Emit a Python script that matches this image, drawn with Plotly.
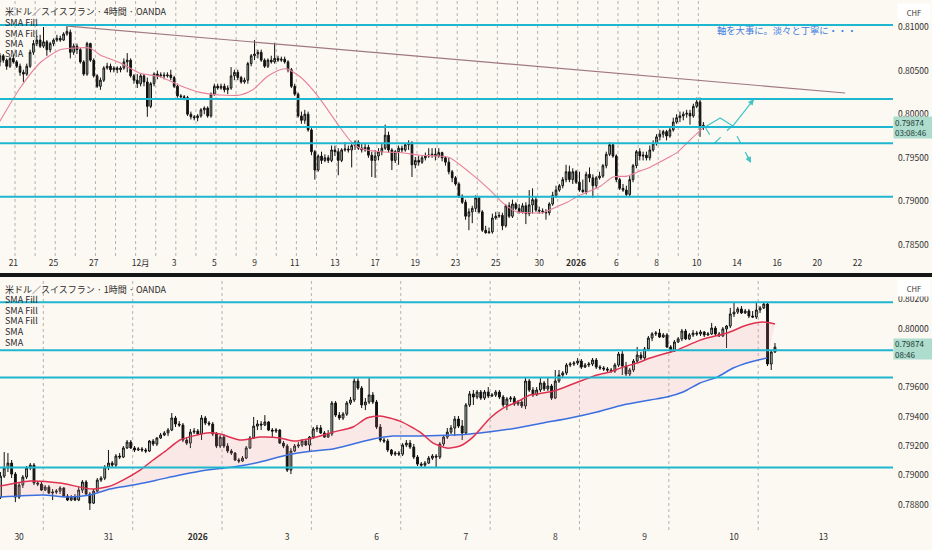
import plotly.graph_objects as go

# ======================= 4H panel (USD/CHF) =======================
top_open = [
 0.8070,0.8060,0.8067,0.8062,0.8055,0.8064,0.8060,0.8055,0.8048,0.8046,0.8055,0.8071,
 0.8081,0.8085,0.8078,0.8083,0.8074,0.8081,0.8085,0.8087,0.8085,0.8092,0.8094,0.8071,
 0.8078,0.8074,0.8060,0.8046,0.8081,0.8062,0.8044,0.8032,0.8039,0.8053,0.8055,0.8051,
 0.8053,0.8051,0.8053,0.8060,0.8062,0.8044,0.8039,0.8035,0.8044,0.8037,0.8009,0.8035,
 0.8046,0.8044,0.8045,0.8044,0.8045,0.8042,0.8032,0.8021,0.8020,0.8019,0.8000,0.7997,
 0.7996,0.7998,0.8005,0.8007,0.7998,0.8023,0.8032,0.8030,0.8032,0.8028,0.8030,0.8044,
 0.8048,0.8042,0.8037,0.8039,0.8058,0.8067,0.8069,0.8071,0.8062,0.8055,0.8062,0.8060,
 0.8064,0.8062,0.8063,0.8060,0.8051,0.8032,0.8023,0.7998,0.7993,0.8000,0.7982,0.7957,
 0.7936,0.7952,0.7947,0.7950,0.7947,0.7959,0.7957,0.7947,0.7959,0.7960,0.7959,0.7964,
 0.7968,0.7961,0.7959,0.7962,0.7953,0.7947,0.7952,0.7957,0.7961,0.7976,0.7959,0.7947,
 0.7957,0.7961,0.7959,0.7965,0.7967,0.7942,0.7947,0.7945,0.7950,0.7952,0.7953,0.7954,
 0.7952,0.7956,0.7950,0.7945,0.7934,0.7927,0.7920,0.7906,0.7899,0.7883,0.7888,0.7892,
 0.7904,0.7888,0.7867,0.7864,0.7865,0.7881,0.7883,0.7884,0.7872,0.7895,0.7883,0.7897,
 0.7892,0.7888,0.7895,0.7886,0.7896,0.7902,0.7890,0.7889,0.7888,0.7887,0.7897,0.7907,
 0.7913,0.7918,0.7925,0.7934,0.7925,0.7934,0.7922,0.7913,0.7911,0.7931,0.7927,0.7918,
 0.7927,0.7929,0.7941,0.7954,0.7965,0.7952,0.7925,0.7915,0.7913,0.7908,0.7925,0.7941,
 0.7957,0.7952,0.7953,0.7950,0.7959,0.7966,0.7974,0.7977,0.7980,0.7975,0.7982,0.7991,
 0.7996,0.7998,0.8000,0.8001,0.7998,0.8009,0.8014,0.7985]
top_high = [
 0.8074,0.8070,0.8069,0.8064,0.8066,0.8068,0.8062,0.8058,0.8051,0.8058,0.8074,0.8085,
 0.8090,0.8091,0.8100,0.8085,0.8083,0.8087,0.8091,0.8090,0.8094,0.8101,0.8097,0.8081,
 0.8081,0.8076,0.8062,0.8083,0.8082,0.8064,0.8046,0.8042,0.8055,0.8059,0.8058,0.8055,
 0.8055,0.8055,0.8064,0.8070,0.8064,0.8046,0.8046,0.8046,0.8046,0.8042,0.8037,0.8048,
 0.8050,0.8048,0.8048,0.8048,0.8051,0.8044,0.8035,0.8023,0.8022,0.8021,0.8003,0.7999,
 0.8000,0.8007,0.8009,0.8009,0.8025,0.8035,0.8035,0.8035,0.8035,0.8033,0.8054,0.8051,
 0.8051,0.8044,0.8042,0.8060,0.8069,0.8085,0.8074,0.8074,0.8064,0.8064,0.8067,0.8082,
 0.8067,0.8066,0.8066,0.8062,0.8053,0.8035,0.8025,0.8003,0.8005,0.8003,0.7984,0.7959,
 0.7954,0.7957,0.7954,0.7953,0.7964,0.7964,0.7961,0.7961,0.7968,0.7964,0.7966,0.7970,
 0.7970,0.7966,0.7967,0.7965,0.7957,0.7959,0.7961,0.7966,0.7988,0.7980,0.7961,0.7959,
 0.7964,0.7964,0.7967,0.7970,0.7969,0.7951,0.7952,0.7953,0.7956,0.7961,0.7961,0.7961,
 0.7961,0.7957,0.7952,0.7950,0.7936,0.7929,0.7922,0.7908,0.7902,0.7892,0.7895,0.7907,
 0.7906,0.7890,0.7872,0.7870,0.7886,0.7888,0.7888,0.7887,0.7897,0.7899,0.7902,0.7899,
 0.7897,0.7898,0.7899,0.7913,0.7915,0.7906,0.7894,0.7892,0.7891,0.7899,0.7911,0.7918,
 0.7920,0.7928,0.7942,0.7941,0.7938,0.7936,0.7934,0.7925,0.7934,0.7939,0.7931,0.7929,
 0.7934,0.7943,0.7957,0.7968,0.7967,0.7954,0.7927,0.7920,0.7918,0.7929,0.7943,0.7959,
 0.7961,0.7957,0.7957,0.7964,0.7970,0.7977,0.7982,0.7982,0.7982,0.7985,0.7996,0.8000,
 0.8003,0.8003,0.8005,0.8005,0.8012,0.8019,0.8019,0.7991]
top_low = [
 0.8058,0.8055,0.8059,0.8051,0.8053,0.8058,0.8053,0.8044,0.8037,0.8044,0.8053,0.8068,
 0.8078,0.8076,0.8076,0.8067,0.8071,0.8078,0.8083,0.8083,0.8084,0.8090,0.8064,0.8068,
 0.8069,0.8058,0.8044,0.8044,0.8060,0.8042,0.8030,0.8028,0.8037,0.8051,0.8048,0.8048,
 0.8047,0.8048,0.8051,0.8048,0.8042,0.8035,0.8030,0.8032,0.8032,0.7997,0.8007,0.8032,
 0.8040,0.8042,0.8040,0.8042,0.8039,0.8030,0.8019,0.8017,0.8016,0.7998,0.7994,0.7993,
 0.7992,0.7996,0.8000,0.7996,0.7996,0.8021,0.8028,0.8028,0.8025,0.8023,0.8028,0.8039,
 0.8039,0.8035,0.8035,0.8035,0.8055,0.8062,0.8064,0.8060,0.8053,0.8053,0.8058,0.8058,
 0.8060,0.8060,0.8058,0.8048,0.8030,0.8021,0.7996,0.7989,0.7989,0.7980,0.7953,0.7925,
 0.7934,0.7943,0.7945,0.7944,0.7945,0.7952,0.7930,0.7945,0.7957,0.7956,0.7939,0.7959,
 0.7959,0.7956,0.7957,0.7950,0.7928,0.7927,0.7947,0.7953,0.7959,0.7956,0.7936,0.7944,
 0.7942,0.7956,0.7957,0.7959,0.7928,0.7938,0.7941,0.7943,0.7947,0.7950,0.7950,0.7947,
 0.7950,0.7946,0.7941,0.7931,0.7922,0.7918,0.7904,0.7897,0.7879,0.7867,0.7875,0.7888,
 0.7886,0.7865,0.7863,0.7863,0.7863,0.7879,0.7881,0.7867,0.7870,0.7881,0.7881,0.7890,
 0.7886,0.7886,0.7874,0.7883,0.7886,0.7888,0.7886,0.7886,0.7879,0.7884,0.7895,0.7904,
 0.7911,0.7915,0.7922,0.7922,0.7920,0.7920,0.7911,0.7910,0.7908,0.7922,0.7904,0.7915,
 0.7925,0.7927,0.7938,0.7952,0.7950,0.7922,0.7913,0.7911,0.7905,0.7906,0.7922,0.7938,
 0.7947,0.7947,0.7947,0.7947,0.7957,0.7964,0.7970,0.7973,0.7970,0.7973,0.7980,0.7989,
 0.7991,0.7993,0.7996,0.7988,0.7996,0.8007,0.7974,0.7982]
top_close = [
 0.8060,0.8067,0.8062,0.8055,0.8064,0.8060,0.8055,0.8048,0.8046,0.8055,0.8071,0.8081,
 0.8085,0.8078,0.8083,0.8074,0.8081,0.8085,0.8087,0.8085,0.8092,0.8095,0.8071,0.8078,
 0.8074,0.8060,0.8046,0.8081,0.8062,0.8044,0.8032,0.8039,0.8053,0.8055,0.8051,0.8053,
 0.8051,0.8053,0.8060,0.8062,0.8044,0.8039,0.8035,0.8044,0.8037,0.8009,0.8035,0.8046,
 0.8044,0.8045,0.8044,0.8045,0.8042,0.8032,0.8021,0.8020,0.8019,0.8000,0.7997,0.7996,
 0.7998,0.8005,0.8007,0.7998,0.8023,0.8032,0.8030,0.8032,0.8028,0.8030,0.8044,0.8048,
 0.8042,0.8037,0.8039,0.8058,0.8067,0.8069,0.8071,0.8062,0.8055,0.8062,0.8060,0.8064,
 0.8062,0.8063,0.8060,0.8051,0.8032,0.8023,0.7998,0.7993,0.8000,0.7982,0.7957,0.7936,
 0.7952,0.7947,0.7950,0.7947,0.7959,0.7957,0.7947,0.7959,0.7960,0.7959,0.7964,0.7968,
 0.7961,0.7959,0.7962,0.7953,0.7947,0.7952,0.7957,0.7961,0.7976,0.7959,0.7947,0.7957,
 0.7961,0.7959,0.7965,0.7967,0.7942,0.7947,0.7945,0.7950,0.7952,0.7953,0.7954,0.7952,
 0.7956,0.7950,0.7945,0.7934,0.7927,0.7920,0.7906,0.7899,0.7883,0.7888,0.7892,0.7904,
 0.7888,0.7867,0.7864,0.7865,0.7881,0.7883,0.7884,0.7872,0.7895,0.7883,0.7897,0.7892,
 0.7888,0.7895,0.7886,0.7896,0.7902,0.7890,0.7889,0.7888,0.7887,0.7897,0.7907,0.7913,
 0.7918,0.7925,0.7934,0.7925,0.7934,0.7922,0.7913,0.7911,0.7931,0.7927,0.7918,0.7927,
 0.7929,0.7941,0.7954,0.7965,0.7952,0.7925,0.7915,0.7913,0.7908,0.7925,0.7941,0.7957,
 0.7952,0.7953,0.7950,0.7959,0.7966,0.7974,0.7977,0.7980,0.7975,0.7982,0.7991,0.7996,
 0.7998,0.8000,0.8001,0.7998,0.8009,0.8014,0.7985,0.79874]

top_tick_pos = [5, 17, 29, 43, 53, 65, 77, 89, 101, 113, 125, 137, 149, 162, 173, 185, 197, 209, 221, 233, 245, 257]
top_tick_text = ["21", "25", "27", "12月", "3", "5", "9", "11", "13", "17", "19", "23", "25", "30",
                 "<b>2026</b>", "6", "8", "10", "14", "16", "20", "22"]
top_price_ticks = [0.785, 0.790, 0.795, 0.800, 0.805, 0.810]

top_sma_pos = [1, 7, 13, 18.9, 24, 27.9, 30.9, 36.8, 42.8, 48.8, 54.7, 60.7, 66.7, 72.7, 76.5, 80.7,
               84.6, 86.7, 90.6, 94.4, 97.4, 102.5, 105.5, 108.5, 114.4, 120.4, 126.4, 132.4, 135.3,
               141.3, 147.3, 151.2, 155.3, 159.2, 163.1, 166.1, 170.3, 174.1, 180.1, 184, 188.2, 192.1,
               195, 198.9, 203.1, 206.1, 209.1, 210.9]
top_sma_val = [0.7992, 0.8030, 0.8059, 0.8074, 0.8076, 0.8076, 0.8068, 0.8059, 0.8047, 0.8043, 0.8033,
               0.8025, 0.8022, 0.8022, 0.8028, 0.8043, 0.8051, 0.8052, 0.8043, 0.8028, 0.8013, 0.7985,
               0.7970, 0.7961, 0.7957, 0.7956, 0.7953, 0.7952, 0.7950, 0.7933, 0.7913, 0.7898, 0.7888,
               0.7887, 0.7887, 0.7892, 0.7899, 0.7907, 0.7917, 0.7928, 0.7929, 0.7935, 0.7939, 0.7947,
               0.7956, 0.7967, 0.7978, 0.7984]

top_levels = [0.81023, 0.80174, 0.79853, 0.79667, 0.79053]
trend_pos = [21.3, 253.3]
trend_val = [0.81011, 0.80243]
arrow_up_pos = [211.5, 216.0, 219.8, 226.1]
arrow_up_val = [0.79853, 0.79956, 0.79865, 0.80174]
arrow_dn_pos = [211.5, 214.4, 219.5, 225.2]
arrow_dn_val = [0.79853, 0.79670, 0.79865, 0.79440]

# ======================= 1H panel =======================
bot_open = [
 0.78852,0.78995,0.79050,0.79084,0.79009,0.78852,0.78934,0.78989,0.79050,0.79070,0.78948,0.78941,
 0.78900,0.78920,0.78880,0.78886,0.78893,0.78914,0.78859,0.78832,0.78852,0.78832,0.78900,0.78955,
 0.78873,0.78811,0.78893,0.78968,0.78982,0.79057,0.79084,0.79070,0.79132,0.79125,0.79187,0.79227,
 0.79187,0.79173,0.79180,0.79173,0.79166,0.79234,0.79214,0.79255,0.79275,0.79289,0.79309,0.79391,
 0.79350,0.79343,0.79241,0.79220,0.79295,0.79302,0.79282,0.79391,0.79357,0.79350,0.79282,0.79200,
 0.79261,0.79200,0.79166,0.79152,0.79105,0.79098,0.79118,0.79187,0.79255,0.79336,0.79350,0.79343,
 0.79364,0.79309,0.79302,0.79309,0.79220,0.79200,0.79036,0.79166,0.79200,0.79207,0.79234,0.79207,
 0.79261,0.79316,0.79323,0.79289,0.79261,0.79282,0.79493,0.79411,0.79391,0.79418,0.79493,0.79514,
 0.79643,0.79595,0.79480,0.79500,0.79548,0.79500,0.79330,0.79241,0.79234,0.79173,0.79145,0.79152,
 0.79145,0.79207,0.79220,0.79193,0.79125,0.79077,0.79070,0.79084,0.79118,0.79132,0.79125,0.79214,
 0.79261,0.79295,0.79323,0.79384,0.79336,0.79289,0.79480,0.79555,0.79534,0.79568,0.79527,0.79568,
 0.79541,0.79548,0.79568,0.79534,0.79480,0.79520,0.79527,0.79486,0.79500,0.79473,0.79643,0.79582,
 0.79548,0.79582,0.79630,0.79589,0.79609,0.79527,0.79643,0.79684,0.79698,0.79752,0.79759,0.79766,
 0.79779,0.79738,0.79752,0.79759,0.79786,0.79738,0.79732,0.79725,0.79718,0.79711,0.79752,0.79827,
 0.79745,0.79691,0.79718,0.79779,0.79820,0.79800,0.79861,0.79936,0.79964,0.79970,0.79943,0.79957,
 0.79875,0.79847,0.79909,0.79930,0.79984,0.79930,0.79957,0.79970,0.79964,0.79977,0.79957,0.79964,
 0.80004,0.79964,0.79950,0.79998,0.80018,0.80100,0.80113,0.80134,0.80107,0.80120,0.80086,0.80079,
 0.80127,0.80141,0.80168,0.79759,0.79841]
bot_high = [
 0.79023,0.79159,0.79152,0.79105,0.79023,0.78948,0.79002,0.79064,0.79084,0.79084,0.78961,0.78955,
 0.78934,0.78934,0.78907,0.78907,0.78927,0.78920,0.78873,0.78866,0.78873,0.78920,0.78968,0.78968,
 0.78886,0.78907,0.78982,0.78995,0.79070,0.79173,0.79098,0.79145,0.79152,0.79200,0.79241,0.79241,
 0.79200,0.79193,0.79193,0.79187,0.79241,0.79248,0.79261,0.79289,0.79302,0.79323,0.79425,0.79405,
 0.79370,0.79357,0.79261,0.79316,0.79323,0.79316,0.79411,0.79405,0.79370,0.79364,0.79295,0.79275,
 0.79282,0.79220,0.79180,0.79159,0.79118,0.79132,0.79200,0.79268,0.79398,0.79377,0.79370,0.79411,
 0.79370,0.79323,0.79323,0.79316,0.79234,0.79214,0.79186,0.79214,0.79227,0.79248,0.79248,0.79268,
 0.79330,0.79343,0.79343,0.79302,0.79309,0.79507,0.79507,0.79432,0.79432,0.79507,0.79534,0.79663,
 0.79663,0.79609,0.79527,0.79663,0.79568,0.79514,0.79350,0.79255,0.79248,0.79180,0.79166,0.79166,
 0.79220,0.79241,0.79241,0.79214,0.79139,0.79091,0.79098,0.79132,0.79145,0.79145,0.79227,0.79275,
 0.79323,0.79343,0.79405,0.79405,0.79377,0.79493,0.79575,0.79582,0.79582,0.79582,0.79582,0.79602,
 0.79561,0.79582,0.79582,0.79548,0.79534,0.79541,0.79541,0.79514,0.79520,0.79670,0.79657,0.79602,
 0.79602,0.79670,0.79643,0.79670,0.79623,0.79718,0.79718,0.79711,0.79766,0.79773,0.79779,0.79800,
 0.79793,0.79766,0.79773,0.79800,0.79800,0.79752,0.79745,0.79738,0.79732,0.79766,0.79841,0.79847,
 0.79773,0.79732,0.79793,0.79875,0.79841,0.79875,0.79950,0.79977,0.79984,0.79998,0.79970,0.79970,
 0.79888,0.79922,0.79943,0.79998,0.79998,0.79970,0.79991,0.79984,0.79991,0.79984,0.79977,0.80039,
 0.80018,0.79977,0.80011,0.80025,0.80141,0.80175,0.80147,0.80154,0.80134,0.80134,0.80120,0.80175,
 0.80154,0.80181,0.80175,0.79847,0.79902]
bot_low = [
 0.78839,0.78982,0.79023,0.78982,0.78818,0.78839,0.78914,0.78975,0.79036,0.78934,0.78927,0.78893,
 0.78893,0.78873,0.78832,0.78873,0.78873,0.78852,0.78825,0.78825,0.78825,0.78825,0.78880,0.78859,
 0.78764,0.78805,0.78886,0.78955,0.78968,0.79036,0.79057,0.79057,0.79111,0.79118,0.79180,0.79180,
 0.79159,0.79166,0.79159,0.79152,0.79159,0.79200,0.79200,0.79248,0.79268,0.79268,0.79302,0.79330,
 0.79330,0.79227,0.79207,0.79186,0.79282,0.79275,0.79241,0.79343,0.79336,0.79268,0.79186,0.79186,
 0.79186,0.79152,0.79139,0.79098,0.79084,0.79091,0.79111,0.79180,0.79248,0.79309,0.79309,0.79336,
 0.79302,0.79255,0.79289,0.79214,0.79186,0.79023,0.79009,0.79159,0.79186,0.79193,0.79200,0.79159,
 0.79248,0.79295,0.79282,0.79255,0.79255,0.79268,0.79398,0.79377,0.79377,0.79405,0.79480,0.79500,
 0.79582,0.79459,0.79445,0.79486,0.79486,0.79316,0.79227,0.79220,0.79159,0.79132,0.79132,0.79132,
 0.79132,0.79193,0.79180,0.79111,0.79064,0.79057,0.79057,0.79077,0.79105,0.79057,0.79111,0.79200,
 0.79248,0.79282,0.79268,0.79323,0.79241,0.79275,0.79466,0.79480,0.79520,0.79514,0.79514,0.79527,
 0.79534,0.79534,0.79520,0.79466,0.79445,0.79500,0.79473,0.79473,0.79459,0.79452,0.79568,0.79534,
 0.79541,0.79568,0.79575,0.79575,0.79514,0.79520,0.79630,0.79663,0.79684,0.79738,0.79745,0.79752,
 0.79725,0.79732,0.79738,0.79745,0.79725,0.79718,0.79711,0.79704,0.79698,0.79698,0.79738,0.79684,
 0.79677,0.79677,0.79704,0.79766,0.79786,0.79786,0.79847,0.79915,0.79950,0.79936,0.79936,0.79868,
 0.79834,0.79841,0.79902,0.79915,0.79922,0.79922,0.79943,0.79950,0.79950,0.79943,0.79950,0.79957,
 0.79950,0.79943,0.79943,0.79868,0.80004,0.80079,0.80100,0.80100,0.80100,0.80072,0.80072,0.80066,
 0.80107,0.80134,0.79745,0.79718,0.79834]
bot_close = [
 0.78995,0.79050,0.79084,0.79009,0.78852,0.78934,0.78989,0.79050,0.79070,0.78948,0.78941,0.78900,
 0.78920,0.78880,0.78886,0.78893,0.78914,0.78859,0.78832,0.78852,0.78832,0.78900,0.78955,0.78873,
 0.78811,0.78893,0.78968,0.78982,0.79057,0.79084,0.79070,0.79132,0.79125,0.79187,0.79227,0.79187,
 0.79173,0.79180,0.79173,0.79166,0.79234,0.79214,0.79255,0.79275,0.79289,0.79309,0.79391,0.79350,
 0.79343,0.79241,0.79220,0.79295,0.79302,0.79282,0.79391,0.79357,0.79350,0.79282,0.79200,0.79261,
 0.79200,0.79166,0.79152,0.79105,0.79098,0.79118,0.79187,0.79255,0.79336,0.79350,0.79343,0.79364,
 0.79309,0.79302,0.79309,0.79220,0.79200,0.79036,0.79166,0.79200,0.79207,0.79234,0.79207,0.79261,
 0.79316,0.79323,0.79289,0.79261,0.79282,0.79493,0.79411,0.79391,0.79418,0.79493,0.79514,0.79643,
 0.79595,0.79480,0.79500,0.79548,0.79500,0.79330,0.79241,0.79234,0.79173,0.79145,0.79152,0.79145,
 0.79207,0.79220,0.79193,0.79125,0.79077,0.79070,0.79084,0.79118,0.79132,0.79125,0.79214,0.79261,
 0.79295,0.79323,0.79384,0.79336,0.79289,0.79480,0.79555,0.79534,0.79568,0.79527,0.79568,0.79541,
 0.79548,0.79568,0.79534,0.79480,0.79520,0.79527,0.79486,0.79500,0.79473,0.79643,0.79582,0.79548,
 0.79582,0.79630,0.79589,0.79609,0.79527,0.79643,0.79684,0.79698,0.79752,0.79759,0.79766,0.79779,
 0.79738,0.79752,0.79759,0.79786,0.79738,0.79732,0.79725,0.79718,0.79711,0.79752,0.79827,0.79745,
 0.79691,0.79718,0.79779,0.79820,0.79800,0.79861,0.79936,0.79964,0.79970,0.79943,0.79957,0.79875,
 0.79847,0.79909,0.79930,0.79984,0.79930,0.79957,0.79970,0.79964,0.79977,0.79957,0.79964,0.80004,
 0.79964,0.79950,0.79998,0.80018,0.80100,0.80113,0.80134,0.80107,0.80120,0.80086,0.80079,0.80127,
 0.80141,0.80168,0.79759,0.79841,0.79874]

bot_tick_pos = [5, 29, 53, 77, 101, 125, 149, 173, 197, 221]
bot_tick_text = ["30", "31", "<b>2026</b>", "3", "6", "7", "8", "9", "10", "13"]
bot_price_ticks = [0.788, 0.790, 0.792, 0.794, 0.796, 0.800, 0.802]

bot_red_pos = [-0.1, 7.9, 16.0, 24.6, 29.4, 32.9, 37.5, 41.0, 44.7, 48.2, 55.5, 59.0, 64.3, 69.7, 75.1,
               78.6, 83.9, 89.3, 94.7, 98.4, 101.9, 107.3, 112.7, 116.2, 119.9, 123.4, 126.9, 131.5,
               135.0, 138.7, 142.2, 145.7, 149.5, 153.0, 156.5, 160.2, 163.7, 167.2, 171.0, 174.5,
               179.0, 181.7, 187.9, 195.1, 200.5, 204.8, 208.0]
bot_red_val = [0.78927, 0.78961, 0.78948, 0.78907, 0.78927, 0.78968, 0.79036, 0.79105, 0.79173, 0.79241,
               0.79289, 0.79282, 0.79241, 0.79261, 0.79255, 0.79234, 0.79255, 0.79295, 0.79330, 0.79391,
               0.79405, 0.79370, 0.79295, 0.79220, 0.79186, 0.79200, 0.79261, 0.79391, 0.79459, 0.79500,
               0.79548, 0.79561, 0.79582, 0.79616, 0.79650, 0.79684, 0.79705, 0.79738, 0.79766, 0.79800,
               0.79834, 0.79854, 0.79922, 0.79970, 0.80025, 0.80045, 0.80032]
bot_blue_pos = [-0.1, 11.4, 17.9, 24.0, 29.4, 35.6, 42.0, 48.2, 55.5, 62.5, 69.7, 77.0, 83.9, 89.3, 94.7,
                100.1, 105.4, 112.7, 121.5, 128.8, 138.7, 145.7, 153.0, 160.2, 167.2, 174.5, 179.0,
                183.3, 187.9, 192.5, 196.8, 201.4, 205.9]
bot_blue_val = [0.78852, 0.78866, 0.78852, 0.78866, 0.78907, 0.78934, 0.78968, 0.79002, 0.79036, 0.79057,
                0.79091, 0.79139, 0.79166, 0.79180, 0.79214, 0.79248, 0.79268, 0.79268, 0.79275, 0.79289,
                0.79323, 0.79357, 0.79391, 0.79432, 0.79480, 0.79514, 0.79534, 0.79568, 0.79630, 0.79670,
                0.79732, 0.79773, 0.79800]
bot_levels = [0.80180, 0.79853, 0.79667, 0.79053]
last_price = 0.79874

# ======================= styling / geometry =======================
W, H = 932, 550
PR = 893                      # right edge of plotting area (px)
BG = "#fcf8f2"
FONT = "Noto Sans CJK JP, Noto Sans, sans-serif"
CYAN = "#1fb6cf"
ARROW = "#45c4c6"
UPFILL = "#b3cdbc"
INK = "#111111"

def py(px):  # pixel row -> paper y
    return 1 - px / H

def pxx(px):  # pixel column -> paper x
    return px / PR

fig = go.Figure()

candle_style = dict(
    increasing=dict(line=dict(color=INK, width=1), fillcolor=UPFILL),
    decreasing=dict(line=dict(color=INK, width=1), fillcolor=INK),
    whiskerwidth=0, showlegend=False, hoverinfo="skip")

fig.add_trace(go.Candlestick(x=list(range(len(top_close))), open=top_open, high=top_high,
                             low=top_low, close=top_close, xaxis="x", yaxis="y", **candle_style))
fig.add_trace(go.Scatter(x=top_sma_pos, y=top_sma_val, mode="lines", xaxis="x", yaxis="y",
                         line=dict(color="#e8809a", width=1.1, shape="spline", smoothing=0.6),
                         showlegend=False, hoverinfo="skip"))
fig.add_trace(go.Scatter(x=trend_pos, y=trend_val, mode="lines", xaxis="x", yaxis="y",
                         line=dict(color="#a07880", width=1.2), showlegend=False, hoverinfo="skip"))
fig.add_trace(go.Scatter(x=arrow_up_pos, y=arrow_up_val, mode="lines", xaxis="x", yaxis="y",
                         line=dict(color=ARROW, width=1.2), showlegend=False, hoverinfo="skip"))
fig.add_trace(go.Scatter(x=arrow_dn_pos, y=arrow_dn_val, mode="lines", xaxis="x", yaxis="y",
                         line=dict(color=ARROW, width=1.2, dash="dash"), showlegend=False, hoverinfo="skip"))

# bottom panel: SMA fill + SMAs + candles
fig.add_trace(go.Scatter(x=bot_blue_pos, y=bot_blue_val, mode="lines", xaxis="x2", yaxis="y2",
                         line=dict(color="#3b6fe0", width=1.5, shape="spline", smoothing=0.6),
                         showlegend=False, hoverinfo="skip"))
fig.add_trace(go.Scatter(x=bot_red_pos, y=bot_red_val, mode="lines", xaxis="x2", yaxis="y2",
                         fill="tonexty", fillcolor="rgba(238,150,160,0.16)",
                         line=dict(color="#e0304f", width=1.5, shape="spline", smoothing=0.6),
                         showlegend=False, hoverinfo="skip"))
fig.add_trace(go.Candlestick(x=list(range(len(bot_close))), open=bot_open, high=bot_high,
                             low=bot_low, close=bot_close, xaxis="x2", yaxis="y2", **candle_style))

shapes = []
# session separators (dotted vertical lines)
for k in range(35):
    shapes.append(dict(type="line", xref="x", yref="y domain", x0=6 * k + 5.5, x1=6 * k + 5.5,
                       y0=0, y1=1, line=dict(color="#b3b3b3", width=1, dash="dot"), layer="below"))
for k in range(9):
    shapes.append(dict(type="line", xref="x2", yref="y2 domain", x0=24 * k + 11.5, x1=24 * k + 11.5,
                       y0=0, y1=1, line=dict(color="#b3b3b3", width=1, dash="dot"), layer="below"))
for lv in top_levels:
    shapes.append(dict(type="line", xref="x domain", yref="y", x0=0, x1=1, y0=lv, y1=lv,
                       line=dict(color=CYAN, width=2)))
for lv in bot_levels:
    shapes.append(dict(type="line", xref="x2 domain", yref="y2", x0=0, x1=1, y0=lv, y1=lv,
                       line=dict(color=CYAN, width=2)))
# black pane separator
shapes.append(dict(type="rect", xref="paper", yref="paper", x0=0, x1=W / PR, y0=py(277), y1=py(273),
                   fillcolor="#151515", line=dict(width=0)))

annotations = []
def label(text, px_x, px_y, size=9.0, color="#2a2a2a"):
    annotations.append(dict(text=text, xref="paper", yref="paper", x=pxx(px_x), y=py(px_y),
                            xanchor="left", yanchor="middle", showarrow=False, borderpad=0,
                            font=dict(family=FONT, size=size, color=color)))

label("米ドル／スイスフラン · 4時間 · OANDA", 4, 11)
for t, yy in zip(["SMA Fill", "SMA Fill", "SMA", "SMA"], [22.7, 33.3, 43.5, 53.8]):
    label(t, 4, yy)
label("米ドル／スイスフラン · 1時間 · OANDA", 4, 289)
for t, yy in zip(["SMA Fill", "SMA Fill", "SMA Fill", "SMA", "SMA"], [299.5, 310.2, 320.9, 331.6, 342.3]):
    label(t, 4, yy)
label("軸を大事に。淡々と丁寧に・・・", 716, 30, size=9.3, color="#3d7fdf")

# currency boxes
for yy in (12, 288):
    annotations.append(dict(text="CHF", xref="paper", yref="paper", x=pxx(914), y=py(yy),
                            xanchor="center", yanchor="middle", showarrow=False, bgcolor="white",
                            width=30, height=14, font=dict(family=FONT, size=7.5, color="#333")))
# last-price boxes
annotations.append(dict(text="0.79874<br>03:08:46", xref="paper", yref="paper", x=1.0, y=py(127.5),
                        xanchor="left", yanchor="middle", showarrow=False, bgcolor="#aedccd",
                        width=37, height=19, align="left",
                        font=dict(family=FONT, size=8, color="#1d3b33")))
annotations.append(dict(text="0.79874<br>08:46", xref="paper", yref="paper", x=1.0, y=py(349),
                        xanchor="left", yanchor="middle", showarrow=False, bgcolor="#aedccd",
                        width=37, height=18, align="left",
                        font=dict(family=FONT, size=8, color="#1d3b33")))
# arrow heads
for xs, ys in ((arrow_up_pos, arrow_up_val), (arrow_dn_pos, arrow_dn_val)):
    tx = xs[-1] - 0.25 * (xs[-1] - xs[-2])
    ty = ys[-1] - 0.25 * (ys[-1] - ys[-2])
    annotations.append(dict(x=xs[-1], y=ys[-1], ax=tx, ay=ty, xref="x", yref="y", axref="x", ayref="y",
                            text="", showarrow=True, arrowhead=2, arrowsize=1, arrowwidth=1.2,
                            arrowcolor=ARROW))

tickfont = dict(family=FONT, size=8.5, color="#2f2f2f")
axis_common = dict(showgrid=False, zeroline=False, showline=False, ticks="", tickfont=tickfont)

fig.update_layout(
    width=W, height=H, margin=dict(l=0, r=W - PR, t=0, b=0),
    paper_bgcolor=BG, plot_bgcolor=BG, showlegend=False,
    shapes=shapes, annotations=annotations,
    xaxis=dict(domain=[0, 1], anchor="y", range=[1.015, 267.6], tickmode="array",
               tickvals=top_tick_pos, ticktext=top_tick_text, rangeslider=dict(visible=False),
               automargin=False, **axis_common),
    yaxis=dict(domain=[py(256), 1], anchor="x", side="right", range=[0.783739, 0.813096],
               tickmode="array", tickvals=top_price_ticks,
               ticktext=[f"{v:.5f}" for v in top_price_ticks], ticklabelstandoff=4,
               automargin=False, **axis_common),
    xaxis2=dict(domain=[0, 1], anchor="y2", range=[-0.13, 239.7], tickmode="array",
                tickvals=bot_tick_pos, ticktext=bot_tick_text, rangeslider=dict(visible=False),
                automargin=False, **axis_common),
    yaxis2=dict(domain=[py(530), py(278)], anchor="x2", side="right", range=[0.786279, 0.803451],
                tickmode="array", tickvals=bot_price_ticks,
                ticktext=[f"{v:.5f}" for v in bot_price_ticks], ticklabelstandoff=4,
                automargin=False, **axis_common),
    boxgap=0.3, boxgroupgap=0.3,
)

fig.write_html("out.html", config={"displayModeBar": False},
               post_script="document.body.style.margin='0';document.body.style.overflow='hidden';"
                           "document.documentElement.style.overflow='hidden';")
